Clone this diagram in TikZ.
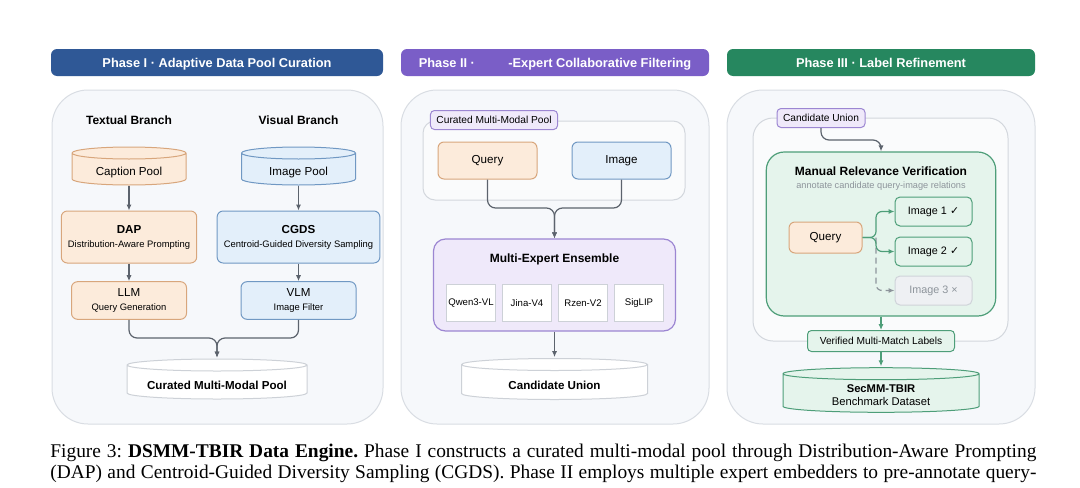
\documentclass[tikz,border=0pt]{standalone}
\usepackage{fontspec}
\setmainfont{Liberation Serif}
\setsansfont{Liberation Sans}
\newfontfamily\checkfont{DejaVu Sans}
\usepackage{tikz}
\usetikzlibrary{arrows.meta, positioning, calc}
\definecolor{phaseblue}{HTML}{2F5896}
\definecolor{phasepurple}{HTML}{7A5EC7}
\definecolor{phasegreen}{HTML}{26875F}
\definecolor{panelfill}{HTML}{F6F8FB}
\definecolor{panelline}{HTML}{D9DDE3}
\definecolor{grpfill}{HTML}{FAFBFC}
\definecolor{grpline}{HTML}{D3D7DD}
\definecolor{orangefill}{HTML}{FCEBDB}
\definecolor{orangeline}{HTML}{D8A67C}
\definecolor{bluefill}{HTML}{E3EFFA}
\definecolor{blueline}{HTML}{7098C3}
\definecolor{purplefill}{HTML}{EFE9FA}
\definecolor{purpleline}{HTML}{9C86D2}
\definecolor{greenfill}{HTML}{E5F4EC}
\definecolor{greenline}{HTML}{4E9E79}
\definecolor{arrowgray}{HTML}{5C636D}
\definecolor{expline}{HTML}{CDD1D7}
\definecolor{nofill}{HTML}{EEF0F3}
\definecolor{noline}{HTML}{CFD3D9}
\definecolor{notext}{HTML}{8D949B}
\tikzset{
  phasehead/.style  = {rounded corners=3pt, minimum height=13.5pt, text=white,
                       text height=4.7pt, text depth=0pt,
                       font=\sffamily\bfseries\fontsize{6.4}{7.5}\selectfont},
  panel/.style      = {draw=panelline, fill=panelfill, rounded corners=18pt,
                       line width=0.5pt, minimum height=167pt},
  grpbox/.style     = {draw=grpline, fill=grpfill, rounded corners=6pt, line width=0.5pt},
  branchtitle/.style= {font=\sffamily\bfseries\fontsize{6}{7}\selectfont},
  orangebox/.style  = {draw=orangeline, fill=orangefill, rounded corners=3pt, line width=0.5pt,
                       align=center, font=\sffamily\fontsize{5.8}{7}\selectfont},
  bluebox/.style    = {draw=blueline, fill=bluefill, rounded corners=3pt, line width=0.5pt,
                       align=center, font=\sffamily\fontsize{5.8}{7}\selectfont},
  tabbox/.style     = {draw=purpleline, fill=purplefill, rounded corners=2pt, line width=0.5pt,
                       minimum height=9.5pt, inner xsep=3pt, inner ysep=0pt,
                       font=\sffamily\fontsize{5.1}{6}\selectfont},
  ensbox/.style     = {draw=purpleline, fill=purplefill, rounded corners=6pt, line width=0.6pt},
  expbox/.style     = {draw=expline, fill=white, line width=0.5pt, minimum width=24.5pt,
                       minimum height=18.5pt, inner sep=0pt,
                       font=\sffamily\fontsize{4.8}{6}\selectfont},
  mrvbox/.style     = {draw=greenline, fill=greenfill, rounded corners=9pt, line width=0.6pt},
  okbox/.style      = {draw=greenline, fill=greenfill, rounded corners=2.5pt, line width=0.5pt,
                       minimum width=38.5pt, minimum height=14.5pt,
                       font=\sffamily\fontsize{5.4}{6.5}\selectfont},
  nobox/.style      = {draw=noline, fill=nofill, rounded corners=2.5pt, line width=0.5pt,
                       minimum width=38.5pt, minimum height=14.5pt, text=notext,
                       font=\sffamily\fontsize{5.4}{6.5}\selectfont},
  verbox/.style     = {draw=greenline, fill=greenfill, rounded corners=2pt, line width=0.5pt,
                       minimum width=73.5pt, minimum height=10.5pt, inner ysep=0pt,
                       font=\sffamily\fontsize{5.1}{6}\selectfont},
  dbase/.style 2 args = {fill=panelfill, inner sep=0pt, path picture={
      \draw[fill=#1, draw=#2, line width=0.5pt]
        let \p1=(path picture bounding box.south west),
            \p2=(path picture bounding box.north east) in
        (\x1+0.5pt,\y2-3.5pt) -- (\x1+0.5pt,\y1+3.5pt)
        arc[start angle=180, end angle=360, x radius={(\x2-\x1)/2-0.5pt}, y radius=3pt]
        -- (\x2-0.5pt,\y2-3.5pt)
        arc[start angle=0, end angle=180, x radius={(\x2-\x1)/2-0.5pt}, y radius=3pt]
        -- cycle
        (\x1+0.5pt,\y2-3.5pt)
        arc[start angle=180, end angle=360, x radius={(\x2-\x1)/2-0.5pt}, y radius=3pt];
    }},
  flow/.style       = {-{Latex[length=3pt, width=2.6pt]}, arrowgray, line width=0.6pt},
  gflow/.style      = {-{Latex[length=3pt, width=2.6pt]}, greenline, line width=0.6pt},
  dflow/.style      = {-{Latex[length=3pt, width=2.6pt]}, notext, line width=0.6pt,
                       dash pattern=on 3pt off 2pt},
  capline/.style    = {inner sep=0pt, anchor=base west,
                       font=\rmfamily\fontsize{9.7}{11}\selectfont\frenchspacing},
}
\newcommand{\dbtext}[1]{\raisebox{-3.4pt}[\height][\depth]{#1}}
\newcommand{\ok}{{\checkfont ✓}}
\newcommand{\subtxt}[1]{{\fontsize{4.7}{7}\selectfont #1}}

\begin{document}
\begin{tikzpicture}[x=0.5pt, y=-0.5pt]
  \path[use as bounding box, fill=white] (0,0) rectangle (1080,487);

  % phase headers and panels
  \node[phasehead, fill=phaseblue, minimum width=166pt] (hdA) at (217,62.5) {Phase I · Adaptive Data Pool Curation};
  \node[phasehead, fill=phasepurple, minimum width=154pt] (hdB) at (555,62.5) {Phase II · \phantom{Multi}-Expert Collaborative Filtering};
  \node[phasehead, fill=phasegreen, minimum width=154pt] (hdC) at (881,62.5) {Phase III · Label Refinement};
  \node[panel, minimum width=165.5pt] (pnA) at (217.5,257) {};
  \node[panel, minimum width=154pt] (pnB) at (555,257) {};
  \node[panel, minimum width=154pt] (pnC) at (881,257) {};

  % Phase I
  \node[branchtitle] (txtbr) at (129,120) {Textual Branch};
  \node[branchtitle] (visbr) at (298.5,120) {Visual Branch};
  \node[dbase={orangefill}{orangeline}, minimum width=58pt, minimum height=20pt,
        font=\sffamily\fontsize{5.8}{7}\selectfont] (capool) at (129,166) {\dbtext{Caption Pool}};
  \node[dbase={bluefill}{blueline}, minimum width=58pt, minimum height=20pt,
        font=\sffamily\fontsize{5.8}{7}\selectfont] (imgpool) at (298.5,166) {\dbtext{Image Pool}};
  \node[orangebox, minimum width=66.5pt, minimum height=26pt] (dap) at (129,237)
    {\textbf{DAP}\\\subtxt{Distribution-Aware Prompting}};
  \node[bluebox, minimum width=79pt, minimum height=26pt] (cgds) at (298.5,237)
    {\textbf{CGDS}\\\subtxt{Centroid-Guided Diversity Sampling}};
  \node[orangebox, minimum width=57.5pt, minimum height=18.8pt] (llm) at (129,300.5)
    {LLM\\\subtxt{Query Generation}};
  \node[bluebox, minimum width=57.5pt, minimum height=18.8pt] (vlm) at (298.5,300.5)
    {VLM\\\subtxt{Image Filter}};
  \node[dbase={white}{expline}, minimum width=91pt, minimum height=21pt,
        font=\sffamily\bfseries\fontsize{5.8}{7}\selectfont] (curpool) at (217,379) {\dbtext{Curated Multi-Modal Pool}};
  \coordinate (mgA) at (217,338);
  \draw[flow] (capool) -- (dap);
  \draw[flow] (imgpool) -- (cgds);
  \draw[flow] (dap) -- (llm);
  \draw[flow] (cgds) -- (vlm);
  \draw[flow, rounded corners=4pt] (llm.south) |- (mgA) -- (curpool.north);
  \draw[flow, rounded corners=4pt] (vlm.south) |- (mgA) -- (curpool.north);

  % Phase II
  \node[grpbox, minimum width=131pt, minimum height=39.5pt] (grpB) at (554,160.5) {};
  \node[tabbox] (tabB) at (494,120) {Curated Multi-Modal Pool};
  \node[orangebox, minimum width=49.5pt, minimum height=18.5pt] (qryB) at (487.5,160.5) {Query};
  \node[bluebox, minimum width=49.5pt, minimum height=18.5pt] (imgB) at (621.5,160.5) {Image};
  \node[ensbox, minimum width=121pt, minimum height=46pt] (ens) at (554.5,285) {};
  \node[branchtitle] (ensT) at (554.5,259.5) {Multi-Expert Ensemble};
  \foreach \nm/\lbl [count=\i] in {qwen/Qwen3-VL, jina/Jina-V4, rzen/Rzen-V2, sigl/SigLIP}
    \node[expbox] (\nm) at (415+56*\i,303) {\lbl};
  \node[dbase={white}{expline}, minimum width=94pt, minimum height=21.5pt,
        font=\sffamily\bfseries\fontsize{5.8}{7}\selectfont] (cand) at (554.5,379) {\dbtext{Candidate Union}};
  \coordinate (mgB) at (554.5,208);
  \draw[flow, rounded corners=4pt] (qryB.south) |- (mgB) -- (ens.north);
  \draw[flow, rounded corners=4pt] (imgB.south) |- (mgB) -- (ens.north);
  \draw[flow] (ens) -- (cand);

  % Phase III
  \node[grpbox, rounded corners=10pt, minimum width=127.5pt, minimum height=111.5pt] (grpC) at (880.5,229.5) {};
  \node[tabbox] (tabC) at (821,118) {Candidate Union};
  \node[mrvbox, minimum width=114.7pt, minimum height=82pt] (mrv) at (881,234) {};
  \node[branchtitle] (mrvT) at (881,171) {Manual Relevance Verification};
  \node[text=notext, font=\sffamily\fontsize{4.6}{5.5}\selectfont] (mrvS) at (881,186)
    {annotate candidate query-image relations};
  \node[orangebox, minimum width=36.5pt, minimum height=15.5pt] (qryC) at (825.5,237.5) {Query};
  \node[okbox] (img1) at (933.5,211.5) {Image 1 \ok};
  \node[okbox] (img2) at (933.5,251.5) {Image 2 \ok};
  \node[nobox] (img3) at (933.5,290.5) {Image 3 ×};
  \coordinate (fkC) at (876,237.5);
  \draw[dflow, rounded corners=3pt] (fkC) |- (img3.west);
  \draw[gflow, rounded corners=3pt] (qryC.east) -- (fkC) |- (img1.west);
  \draw[gflow, rounded corners=3pt] (qryC.east) -- (fkC) |- (img2.west);
  \draw[flow, rounded corners=4pt] (tabC.south) -- ++(0,12) -| (mrv.north);
  \node[verbox] (ver) at (881,341) {Verified Multi-Match Labels};
  \node[dbase={greenfill}{greenline}, minimum width=99pt, minimum height=23.3pt,
        font=\sffamily\fontsize{5.6}{6.5}\selectfont] (secdb) at (881,390)
    {\dbtext{\begin{tabular}{@{}c@{}}\textbf{SecMM-TBIR}\\Benchmark Dataset\end{tabular}}};
  \draw[gflow] (mrv) -- (ver);
  \draw[gflow] (ver) -- (secdb);

  % caption
  \node[capline] (capA) at (50,457) {\makebox[493pt][s]{Figure 3: \textbf{DSMM-TBIR Data Engine.} Phase I constructs a curated multi-modal pool through Distribution-Aware Prompting}};
  \node[capline] (capB) at (50,478.5) {\makebox[493pt][s]{(DAP) and Centroid-Guided Diversity Sampling (CGDS). Phase II employs multiple expert embedders to pre-annotate query-}};
\end{tikzpicture}
\end{document}
